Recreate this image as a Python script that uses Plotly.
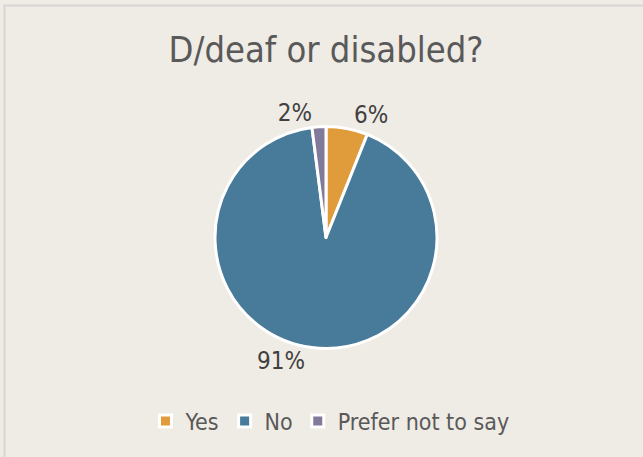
import plotly.graph_objects as go

categories = ["Yes", "No", "Prefer not to say"]
values = [6, 91, 2]
colors = ["#E09C3B", "#477B99", "#827A9B"]
title_text = "D/deaf or disabled?"

W, H = 643, 457
FONT = "DejaVu Sans Condensed, DejaVu Sans, sans-serif"

fig = go.Figure(go.Pie(
    labels=categories,
    values=values,
    sort=False,
    direction="clockwise",
    rotation=0,
    marker=dict(colors=colors, line=dict(color="white", width=3)),
    texttemplate="%{value}%",
    textposition="outside",
    textfont=dict(size=24, color="#404040", family=FONT),
    hoverinfo="label+value",
    domain=dict(x=[215 / W, 437 / W], y=[1 - 349 / H, 1 - 126 / H]),
    showlegend=True,
))

fig.update_layout(
    width=W, height=H,
    margin=dict(l=0, r=0, t=0, b=0),
    paper_bgcolor="#EFEBE5",
    plot_bgcolor="#EFEBE5",
    title=dict(text=title_text, x=326 / W, xanchor="center", y=1 - 49 / H, yanchor="middle",
               font=dict(size=36, color="#595959", family=FONT)),
    legend=dict(orientation="h", x=330 / W, xanchor="center", y=1 - 421 / H, yanchor="middle",
                font=dict(size=23, color="#595959", family=FONT),
                itemwidth=30, bgcolor="rgba(0,0,0,0)"),
    shapes=[dict(type="rect", xref="paper", yref="paper",
                 x0=4.5 / W, x1=1.05, y0=-0.05, y1=1 - 5.5 / H,
                 line=dict(color="#D6D6D6", width=2), layer="below")],
)

fig.write_html("out.html")
